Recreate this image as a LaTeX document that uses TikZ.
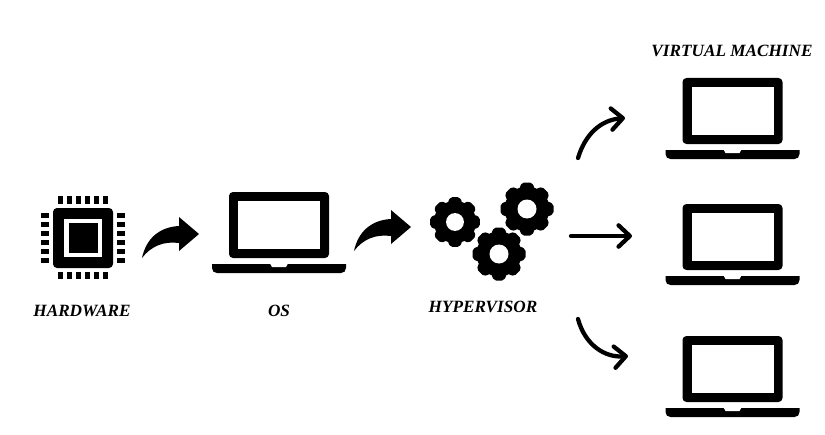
\documentclass[tikz,border=0pt]{standalone}
\usepackage{fontspec}
\setmainfont{Liberation Serif}
\usepackage{tikz}
\usetikzlibrary{arrows.meta,positioning}
\tikzset{
  lbl/.style={font=\fontsize{12.9pt}{14pt}\selectfont\bfseries\itshape,inner sep=0pt},
  ed/.style={-{Straight Barb[round,length=8.5pt,width=16pt,line width=3.2pt]},line width=3.2pt,line cap=round},
  laptop/.pic={
    \fill[rounded corners=3] (-50,-66) rectangle (50,0);
    \fill[white] (-41,-57) rectangle (41,-9);
    \fill (-67,6) -- (67,6) -- (67,10) .. controls (67,13) and (65,15) .. (62,15) -- (-62,15)
      .. controls (-65,15) and (-67,13) .. (-67,10) -- cycle;
    \fill[white] (-9,5.5) -- (9,5.5) -- (7,9) -- (-7,9) -- cycle;
  },
  chip/.pic={
    \fill[rounded corners=3] (-30,-30) rectangle (30,30);
    \fill[white] (-19,-19) rectangle (19,19);
    \fill (-14.5,-15) rectangle (14.5,14.5);
    \foreach \k in {-2.5,-1.5,...,2.5}{
      \fill ({\k*9-2.2},-42) rectangle ({\k*9+2.2},-34);
      \fill ({\k*9-2.2},34) rectangle ({\k*9+2.2},41);
      \fill (-42,{\k*9-2.2}) rectangle (-34,{\k*9+2.2});
      \fill (34,{\k*9-2.2}) rectangle (42,{\k*9+2.2});
    }
  },
  gear/.pic={
    \fill (0,0) circle[radius=22.5];
    \foreach \a in {0,45,...,315}{
      \fill[rotate=\a,rounded corners=1.5] (-8,-20) -- (-5,-26.5) -- (5,-26.5) -- (8,-20) -- cycle;
    }
    \fill[white] (0,0) circle[radius=9.5];
  },
  fatarrow/.pic={
    \fill (0,0) -- (-20,-17) -- (-20,-8) .. controls (-40,-7) and (-53,5) .. (-57,24)
      .. controls (-48,12) and (-35,7) .. (-20,9) -- (-20,17) -- cycle;
  },
}

\begin{document}
\begin{tikzpicture}[x=0.75pt,y=-0.75pt]
  \fill[white] (0,0) rectangle (825,435);
  \useasboundingbox (0,0) rectangle (825,435);

  % icons
  \coordinate (cpu) at (83,238);
  \coordinate (os) at (279,258);
  \coordinate (g1) at (455,222);
  \coordinate (g2) at (527,209);
  \coordinate (g3) at (499,254);
  \coordinate (vm1) at (732.5,144);
  \coordinate (vm2) at (732.5,270);
  \coordinate (vm3) at (732.5,402);
  \pic at (cpu) {chip};
  \pic at (os) {laptop};
  \pic at (g1) [scale=0.94] {gear};
  \pic at (g2) {gear};
  \pic at (g3) {gear};
  \pic at (vm1) {laptop};
  \pic at (vm2) {laptop};
  \pic at (vm3) {laptop};
  \pic at (199,234) {fatarrow};
  \pic at (411,227) {fatarrow};

  % labels
  \node[lbl] (hwlbl) at (82,310.5) {HARDWARE};
  \node[lbl] (oslbl) at (279,311) {OS};
  \node[lbl] (hvlbl) at (483,307) {HYPERVISOR};
  \node[lbl] (vmlbl) at (732,51) {VIRTUAL MACHINE};

  % arrows to the machines
  \coordinate (t1) at (578,158);
  \coordinate (t2) at (571,236);
  \coordinate (t3) at (578,319);
  \coordinate (h1) at (625,118);
  \coordinate (h2) at (632,236);
  \coordinate (h3) at (628,356);
  \draw[ed] (t1) .. controls (585,135) and (600,120) .. (h1);
  \draw[ed] (t2) -- (h2);
  \draw[ed] (t3) .. controls (585,345) and (605,358) .. (h3);
\end{tikzpicture}
\end{document}
